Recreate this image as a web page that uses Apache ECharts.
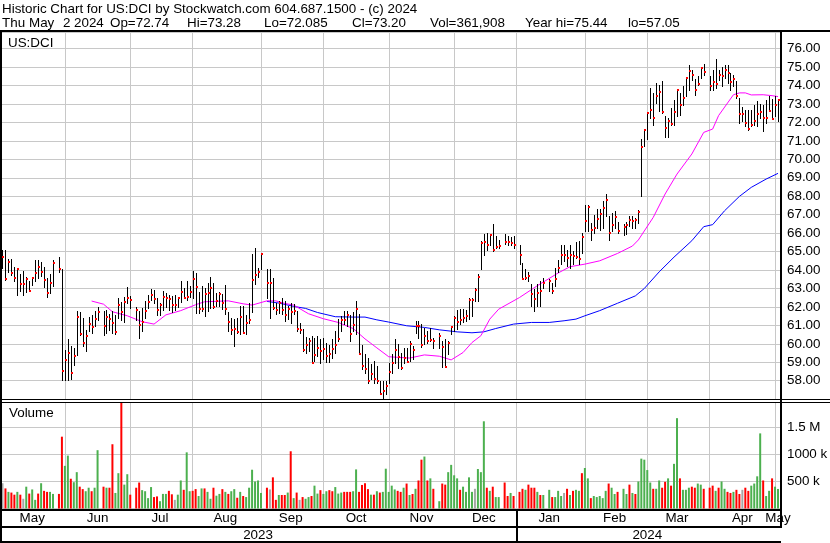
<!DOCTYPE html>
<html><head><meta charset="utf-8">
<script src="https://cdn.jsdelivr.net/npm/echarts@6.0.0/dist/echarts.min.js"></script>
<style>html,body{margin:0;padding:0;background:#fff}#c{width:830px;height:543px}</style>
</head><body><div id="c"></div>
<script>
// ---------------- DATA ----------------
const firstDay = '2023-05-03';
const lastDay = '2024-05-02';

const highs = [
65.1,65.09,64.6,64.6,64.19,64.06,63.77,63.95,63.61,63.43,
63.63,64.55,64.55,64.46,64.19,63.59,63.77,64.57,null,64.69,
64.08,59.68,60.27,59.86,59.77,61.79,61.75,61.39,60.76,61.43,
61.57,61.79,61.97,null,61.79,61.84,61.63,61.79,61.57,62.51,
62.29,62.56,63.07,62.6,null,62.02,61.79,61.93,62.33,62.65,
62.98,62.93,62.47,62.2,62.84,62.74,62.65,62.6,62.62,62.56,
63.41,63.02,63.38,63.11,63.95,63.86,62.81,63.14,63.05,63.32,
63.63,63.32,62.78,62.81,62.69,63.17,61.73,61.42,61.33,61.42,
62.05,62.05,61.55,62.2,64.86,65.22,64.13,64.95,null,64.08,
64.04,63.59,62.23,62.32,62.5,62.32,62.05,62.23,62.14,61.78,
61.15,60.79,60.39,60.33,60.42,60.33,60.42,60.24,60.33,60.06,
59.92,60.24,60.7,61.33,61.51,61.78,61.78,61.55,61.73,62.32,
61.6,59.92,59.43,59.25,58.89,59.07,58.8,57.98,57.98,57.98,
58.95,59.43,60.24,60.0,59.52,59.79,59.79,60.15,59.88,61.23,
61.23,61.05,60.87,60.69,60.87,60.33,null,60.6,60.15,60.24,
60.15,60.96,61.5,61.86,61.9,61.9,61.86,62.49,62.49,63.0,
63.79,65.6,65.96,66.01,65.96,66.47,65.83,65.65,null,65.96,
65.83,65.78,65.83,null,65.38,64.39,64.03,63.9,63.22,62.95,
63.22,63.4,63.58,null,63.49,63.31,64.12,64.57,65.38,65.33,
65.11,65.38,65.02,65.53,65.56,66.0,67.55,67.55,66.55,67.0,
67.31,67.33,67.72,68.14,66.95,67.09,67.22,66.6,null,66.5,
66.6,66.91,66.95,66.82,67.24,71.1,71.61,72.51,73.86,73.59,
74.13,74.04,74.26,72.33,72.24,72.78,73.23,73.81,73.59,73.95,
74.4,75.09,74.86,74.35,74.49,75.0,75.16,null,74.49,74.82,
75.44,74.82,75.0,75.13,75.13,74.68,74.58,74.22,73.3,72.85,
72.69,72.69,72.69,72.96,73.14,73.01,72.96,73.23,73.41,73.27,
73.41,73.28];

const lows = [
64.1,63.47,63.92,63.74,63.38,62.62,62.84,62.65,62.8,62.85,
63.2,63.38,63.56,63.65,63.07,62.53,62.74,63.11,null,63.92,
58.02,58.02,58.05,58.11,58.87,59.41,60.49,59.86,59.59,60.67,
60.58,60.94,61.3,null,60.49,60.58,60.76,60.58,60.56,61.39,
61.3,61.21,62.2,61.93,null,61.3,60.31,60.67,61.39,61.93,
62.38,62.2,61.54,61.57,61.84,61.97,61.84,61.75,61.84,61.97,
62.29,62.47,62.38,62.56,62.47,61.69,61.69,61.78,61.51,61.78,
61.96,61.96,62.05,62.05,61.87,61.6,60.7,60.52,59.88,60.6,
60.52,60.57,60.52,61.15,61.73,63.23,63.64,64.04,null,62.5,
61.42,61.9,61.6,61.69,61.6,61.24,61.33,61.15,61.6,60.7,
60.61,59.61,59.52,59.61,58.94,59.07,59.34,58.98,59.16,59.01,
59.01,59.25,59.52,60.15,60.7,61.06,60.97,60.15,60.7,60.52,
59.43,58.62,58.44,57.86,58.07,57.89,57.86,57.26,57.05,57.26,
57.9,58.43,58.97,58.7,58.61,58.97,59.0,59.06,59.16,60.6,
60.33,59.84,59.97,60.06,60.15,59.79,null,59.79,58.74,58.74,
59.43,60.51,60.69,60.83,61.05,61.2,61.23,61.32,61.5,62.31,
62.31,64.03,64.84,65.11,65.38,65.02,65.2,65.2,null,65.42,
65.38,65.38,65.2,null,64.35,63.5,63.49,63.4,62.04,61.77,
62.04,62.04,63.04,null,62.86,62.77,63.13,63.9,64.3,64.48,
64.21,64.12,64.3,64.66,64.3,64.9,66.1,66.1,65.65,66.01,
66.28,66.19,66.28,66.91,65.65,66.1,66.28,66.01,null,65.9,
65.97,66.37,66.28,66.28,66.55,68.0,70.7,71.1,72.24,71.88,
73.05,72.6,72.5,71.21,71.21,71.84,71.88,72.33,72.42,72.96,
73.45,73.77,74.31,73.5,74.04,74.4,74.58,null,73.77,73.77,
73.86,74.31,73.95,74.4,74.13,73.77,73.95,73.3,71.97,72.06,
71.79,71.61,71.79,71.88,71.79,72.24,71.52,71.97,72.6,72.2,
72.33,72.085];

const closes = [
64.68,63.5,64.46,63.86,63.59,64.03,63.27,63.27,63.54,62.89,
63.59,63.86,64.17,63.92,63.48,62.78,63.3,64.4,null,64.08,
58.51,59.1,59.53,58.42,59.32,61.48,60.56,60.02,60.4,61.1,
60.89,61.36,61.7,null,60.99,61.48,61.36,61.12,60.62,62.11,
61.72,62.29,62.47,62.35,null,61.81,61.03,61.18,61.79,62.26,
62.65,62.44,61.81,62.08,62.56,62.51,62.44,62.08,62.11,62.47,
62.8,62.51,62.53,62.8,63.5,63.08,61.91,61.87,62.72,62.74,
63.03,62.0,62.32,62.72,62.23,61.91,61.2,60.75,60.79,60.64,
61.46,60.57,61.15,61.29,63.46,63.75,63.9,64.87,null,63.3,
63.3,61.96,61.84,62.23,61.84,61.55,61.87,61.73,61.78,60.79,
60.75,59.67,59.94,60.15,58.94,59.38,59.76,59.61,59.7,59.34,
59.47,59.7,59.94,60.28,61.29,61.29,61.55,60.55,61.0,61.87,
59.47,58.8,58.62,57.98,58.35,58.07,57.98,57.26,57.44,57.71,
58.5,58.97,59.64,59.3,58.7,59.25,59.03,59.97,59.66,60.96,
60.96,59.93,60.42,60.15,60.2,60.15,null,60.42,59.82,58.74,
60.06,60.91,61.41,61.2,61.27,61.38,61.5,62.4,62.4,62.9,
63.61,65.47,65.53,65.38,65.89,65.08,65.26,65.29,null,65.53,
65.53,65.47,65.33,null,64.8,63.54,63.58,63.7,62.68,62.44,
62.77,62.89,63.31,null,63.4,62.86,63.49,64.12,64.79,64.79,
64.66,64.79,64.75,64.7,64.61,65.8,66.64,67.4,66.19,66.28,
66.79,67.04,67.36,67.78,66.01,66.46,66.86,66.1,null,66.32,
66.43,66.73,66.64,66.73,67.13,70.65,71.61,72.51,72.69,72.24,
73.41,73.66,72.55,71.68,72.06,71.91,72.55,73.74,72.92,73.3,
74.39,74.77,74.58,73.74,74.06,74.95,74.71,null,73.95,74.21,
74.08,74.55,74.49,74.86,74.68,74.17,74.35,73.45,72.45,72.45,
71.97,71.66,71.88,72.1,72.47,72.56,72.24,72.24,72.6,72.2,
72.96,73.2];

// volume in thousands of shares
const volumes = [
468,372,308,295,256,308,256,180,404,276,
353,160,276,468,327,308,308,270,null,270,
1330,790,980,551,487,673,404,359,320,385,
320,385,1080,null,404,385,385,1190,288,654,
2030,442,635,256,null,385,481,340,320,192,
397,212,224,135,270,270,327,263,160,256,
519,346,1040,320,327,359,231,372,372,308,
180,385,237,270,359,308,270,320,359,199,
308,231,212,385,718,500,519,288,null,385,
353,577,160,250,250,250,295,1060,192,295,
160,212,180,212,231,423,276,340,270,320,
340,320,397,276,295,308,308,308,320,724,
308,436,468,359,256,256,320,295,308,737,
308,423,353,327,308,385,462,250,269,365,
519,904,962,519,558,365,null,135,462,442,
673,808,615,558,346,404,308,577,308,365,
731,673,1615,385,327,404,212,212,null,481,
231,288,231,null,308,365,346,442,385,385,
308,250,250,null,346,212,212,327,231,288,
365,250,327,346,327,654,750,558,192,231,
212,231,192,327,462,385,269,308,null,365,
269,442,288,269,500,923,904,712,481,365,
365,519,385,494,558,423,827,1673,558,346,
346,385,404,385,462,442,365,null,385,423,
327,385,500,365,308,288,308,346,269,346,
385,327,423,462,596,1391,519,231,327,558,
404,362];

// daily change direction: 1 up, -1 down, 0 unchanged
const volChange = [
0,-1,1,-1,-1,1,-1,0,1,-1,
1,1,-1,1,-1,-1,1,1,null,-1,
-1,1,1,-1,1,1,-1,-1,1,1,
-1,1,1,null,-1,1,-1,-1,1,1,
-1,1,1,-1,null,-1,-1,1,1,1,
1,-1,-1,1,1,1,-1,-1,0,1,
1,-1,1,1,-1,-1,1,1,-1,1,
1,-1,1,1,-1,1,-1,1,1,-1,
1,-1,1,1,1,1,1,1,null,-1,
0,-1,-1,1,-1,-1,1,-1,1,-1,
0,-1,1,1,-1,1,1,-1,1,1,
-1,-1,1,1,1,-1,-1,-1,1,1,
-1,-1,-1,-1,1,-1,1,-1,1,1,
1,1,1,-1,-1,1,-1,1,-1,1,
-1,-1,1,-1,1,-1,null,1,-1,-1,
1,1,1,1,-1,1,1,1,1,0,
1,1,1,-1,1,-1,1,1,null,-1,
-1,1,-1,null,-1,-1,1,-1,-1,-1,
1,-1,1,null,1,-1,1,1,1,0,
-1,1,-1,1,1,-1,1,1,-1,1,
1,1,1,1,-1,1,1,-1,null,1,
1,-1,1,-1,1,1,1,1,1,-1,
1,1,-1,-1,1,-1,1,1,-1,1,
1,1,-1,-1,1,1,-1,null,-1,-1,
1,-1,1,1,-1,-1,1,-1,-1,0,
-1,-1,1,1,1,1,-1,1,1,-1,
1,1];

// moving averages
const maShort = [
['2023-06-14',62.32],['2023-06-20',62.15],['2023-06-23',61.74],['2023-06-30',61.52],['2023-07-07',61.2],
['2023-07-13',61.07],['2023-07-19',61.57],['2023-07-26',61.8],['2023-08-02',62.12],['2023-08-07',62.28],
['2023-08-17',62.33],['2023-08-24',62.17],['2023-08-29',62.1],['2023-09-05',62.33],['2023-09-08',62.33],
['2023-09-13',62.19],['2023-09-18',62.1],['2023-09-25',61.63],['2023-10-02',61.36],['2023-10-09',61.16],
['2023-10-16',60.83],['2023-10-20',60.27],['2023-10-26',59.78],['2023-11-01',59.3],['2023-11-10',59.23],
['2023-11-17',59.4],['2023-11-24',59.33],['2023-11-30',59.13],['2023-12-06',59.53],['2023-12-11',60.07],
['2023-12-14',60.44],['2023-12-19',61.34],['2023-12-22',61.88],['2024-01-02',62.51],['2024-01-10',63.15],
['2024-01-19',63.84],['2024-01-25',64.18],['2024-02-01',64.32],['2024-02-08',64.5],['2024-02-16',64.9],
['2024-02-23',65.3],['2024-02-27',65.63],['2024-03-05',66.85],['2024-03-11',68.12],['2024-03-15',69.2],
['2024-03-22',70.29],['2024-03-28',71.46],['2024-04-02',71.64],['2024-04-04',72.37],['2024-04-11',73.5],
['2024-04-15',73.6],['2024-04-17',73.6],['2024-04-19',73.49],['2024-04-25',73.5],['2024-04-30',73.45],
['2024-05-02',73.4]];

const maLong = [
['2023-09-05',62.3],['2023-09-11',62.21],['2023-09-18',62.03],['2023-09-22',61.92],['2023-09-28',61.7],
['2023-10-06',61.47],['2023-10-16',61.45],['2023-10-20',61.45],['2023-10-26',61.3],['2023-11-01',61.18],
['2023-11-09',60.98],['2023-11-17',60.89],['2023-11-24',60.76],['2023-12-04',60.65],['2023-12-11',60.6],
['2023-12-15',60.65],['2023-12-21',60.83],['2023-12-29',61.07],['2024-01-08',61.16],['2024-01-16',61.16],
['2024-01-23',61.25],['2024-01-29',61.34],['2024-02-01',61.52],['2024-02-08',61.8],['2024-02-16',62.2],
['2024-02-26',62.6],['2024-02-29',63.0],['2024-03-07',63.9],['2024-03-14',64.7],['2024-03-22',65.59],
['2024-03-28',66.35],['2024-04-02',66.46],['2024-04-08',67.21],['2024-04-15',67.99],['2024-04-19',68.48],
['2024-04-26',68.93],['2024-05-02',69.24]];

const priceTicks = [58,59,60,61,62,63,64,65,66,67,68,69,70,71,72,73,74,75,76];
const volumeTickLabels = {500000:'500 k', 1000000:'1000 k', 1500000:'1.5 M'};
const monthNames = ['Jan','Feb','Mar','Apr','May','Jun','Jul','Aug','Sep','Oct','Nov','Dec'];
const headerLine1 = 'Historic Chart for US:DCI by Stockwatch.com 604.687.1500 - (c) 2024';
const headerFields = ['Thu', 'May', '2', '2024', 'Op=72.74', 'Hi=73.28', 'Lo=72.085', 'Cl=73.20', 'Vol=361,908', 'Year hi=75.44', 'lo=57.05'];
const symbolLabel = 'US:DCI';
const volumeLabel = 'Volume';

// ---------------- BUILD ----------------
const dates = [];
(function(){
  let t = Date.parse(firstDay + 'T00:00:00Z');
  const end = Date.parse(lastDay + 'T00:00:00Z');
  while (t <= end) {
    const d = new Date(t); const w = d.getUTCDay();
    if (w > 0 && w < 6) dates.push(d.toISOString().slice(0,10));
    t += 86400000;
  }
})();
const N = dates.length;

const monthStart = new Set();
const monthLabelIdx = new Set();
const yearLabelIdx = new Set();
(function(){
  let first = 0;
  for (let i = 1; i <= N; i++) {
    if (i === N || dates[i].slice(0,7) !== dates[i-1].slice(0,7)) {
      monthLabelIdx.add(Math.floor((first + i) / 2));
      if (i < N) monthStart.add(i);
      first = i;
    }
  }
  let fy = 0;
  for (let i = 1; i <= N; i++) {
    if (i === N || dates[i].slice(0,4) !== dates[i-1].slice(0,4)) {
      yearLabelIdx.add(Math.floor((fy + i - 1) / 2));
      fy = i;
    }
  }
})();

const ohlc = [];
for (let i = 0; i < N; i++) {
  if (highs[i] != null) ohlc.push([i, highs[i], lows[i], closes[i]]);
}
const volData = volumes.map((v, i) => v == null ? null : {value: v * 1000, dir: volChange[i]});

// ---------------- LAYOUT ----------------
const FONT = 'Liberation Sans, Arial, sans-serif';
const plotL = 1, plotR = 779.5;
const slotW = (plotR - plotL) / N;
const dataLeft = plotL + slotW / 2, dataWidth = (plotR - plotL) - slotW;
const pTop = 32, pH = 367.2, vTop = 402, vH = 106.5;
const pMin = 57, pMax = 76.9;
const vMax = 500000 * vH / 27;
const GRID = '#c8c8c8';
const headerX = [2, 29, 63, 74, 110, 187, 264, 352, 430, 525, 628];

const chart = echarts.init(document.getElementById('c'), null, {renderer: 'canvas'});

const catAxis = (grid, extra) => Object.assign({
  type: 'category', gridIndex: grid, data: dates, boundaryGap: false,
  axisLine: {show: false}, axisTick: {show: false}, axisLabel: {show: false},
  splitLine: {show: false}
}, extra);

const txt = (x, y, s) => ({type: 'text', x: x, y: y, z: 100, silent: true,
  style: {text: s, fill: '#000', font: '13.4px ' + FONT, verticalAlign: 'middle'}});
const ln = (x1, y1, x2, y2, w) => ({type: 'line', z: 100, silent: true,
  shape: {x1: x1, y1: y1, x2: x2, y2: y2}, style: {stroke: '#000', lineWidth: w}});

const graphic = [
  txt(2, 9, headerLine1),
  txt(8, 43, symbolLabel),
  txt(9, 413, volumeLabel),
  ln(0, 31, 830, 31, 2),
  ln(1, 30, 1, 543, 2),
  ln(781, 30, 781, 528, 2),
  ln(0, 399.5, 830, 399.5, 1),
  ln(0, 402.5, 830, 402.5, 1),
  ln(0, 510, 781, 510, 2),
  ln(0, 527, 781, 527, 2),
  ln(0, 542, 781, 542, 2),
  ln(517, 510, 517, 542, 2)
];
headerFields.forEach((f, i) => graphic.push(txt(headerX[i], 23, f)));

const option = {
  animation: false,
  backgroundColor: '#fff',
  textStyle: {fontFamily: FONT},
  grid: [
    {left: dataLeft, top: pTop, width: dataWidth, height: pH, outerBoundsMode: 'none', containLabel: false},
    {left: dataLeft, top: vTop, width: dataWidth, height: vH, outerBoundsMode: 'none', containLabel: false},
    {left: plotL, top: pTop, width: 781 - plotL, height: pH, outerBoundsMode: 'none', containLabel: false},
    {left: plotL, top: vTop, width: 781 - plotL, height: vH, outerBoundsMode: 'none', containLabel: false}
  ],
  xAxis: [
    catAxis(0, {splitLine: {show: true, interval: (i) => monthStart.has(i), lineStyle: {color: GRID, width: 1}}}),
    catAxis(1, {
      splitLine: {show: true, interval: (i) => monthStart.has(i), lineStyle: {color: GRID, width: 1}},
      axisLabel: {show: true, interval: (i) => monthLabelIdx.has(i), margin: 3,
        formatter: (v) => monthNames[parseInt(v.slice(5,7), 10) - 1],
        color: '#000', fontSize: 13.4, fontFamily: FONT}
    }),
    catAxis(1, {position: 'bottom', offset: 17,
      axisLabel: {show: true, interval: (i) => yearLabelIdx.has(i), margin: 3,
        formatter: (v) => v.slice(0,4), color: '#000', fontSize: 13.4, fontFamily: FONT}
    }),
    {type: 'value', gridIndex: 2, min: 0, max: 1, show: false},
    {type: 'value', gridIndex: 3, min: 0, max: 1, show: false}
  ],
  yAxis: [
    {type: 'value', gridIndex: 0, min: pMin, max: pMax, show: false},
    {type: 'value', gridIndex: 1, min: 0, max: vMax, show: false},
    {type: 'value', gridIndex: 2, min: pMin, max: pMax, interval: 1, position: 'right',
      axisLine: {show: false}, axisTick: {show: false},
      axisLabel: {margin: 6, color: '#000', fontSize: 13.4, fontFamily: FONT,
        formatter: (v) => priceTicks.indexOf(v) >= 0 ? v.toFixed(2) : ''},
      splitLine: {show: true, lineStyle: {color: GRID, width: 1}}},
    {type: 'value', gridIndex: 3, min: 0, max: vMax, interval: 500000, position: 'right',
      axisLine: {show: false}, axisTick: {show: false},
      axisLabel: {margin: 6, color: '#000', fontSize: 13.4, fontFamily: FONT,
        formatter: (v) => volumeTickLabels[v] || ''},
      splitLine: {show: true, lineStyle: {color: GRID, width: 1}}}
  ],
  series: [
    {
      type: 'bar', xAxisIndex: 1, yAxisIndex: 1, barWidth: 2, data: volData,
      itemStyle: {color: (p) => p.data && p.data.dir > 0 ? '#4cb04f' : (p.data && p.data.dir < 0 ? '#ff0000' : '#a6a6a6')},
      z: 3
    },
    {
      type: 'line', xAxisIndex: 0, yAxisIndex: 0, data: maLong, showSymbol: false, connectNulls: true,
      lineStyle: {color: '#0000ff', width: 1}, z: 3
    },
    {
      type: 'line', xAxisIndex: 0, yAxisIndex: 0, data: maShort, showSymbol: false, connectNulls: true,
      lineStyle: {color: '#ff00ff', width: 1}, z: 3
    },
    {
      type: 'custom', xAxisIndex: 0, yAxisIndex: 0, data: ohlc, z: 4,
      encode: {x: 0, y: [1, 2, 3]},
      renderItem: function (params, api) {
        const i = api.value(0);
        const ph = api.coord([i, api.value(1)]);
        const pl = api.coord([i, api.value(2)]);
        const pc = api.coord([i, api.value(3)]);
        const x = Math.round(ph[0]) + 0.5;
        return {type: 'group', children: [
          {type: 'line', shape: {x1: x, y1: Math.round(ph[1]), x2: x, y2: Math.round(pl[1]) + 1},
            style: {stroke: '#000', lineWidth: 1}},
          {type: 'rect', shape: {x: x - 0.5, y: Math.round(pc[1]) - 1, width: 2, height: 2},
            style: {fill: '#ff0000'}}
        ]};
      }
    }
  ],
  graphic: graphic
};
chart.setOption(option);
</script>
</body></html>
